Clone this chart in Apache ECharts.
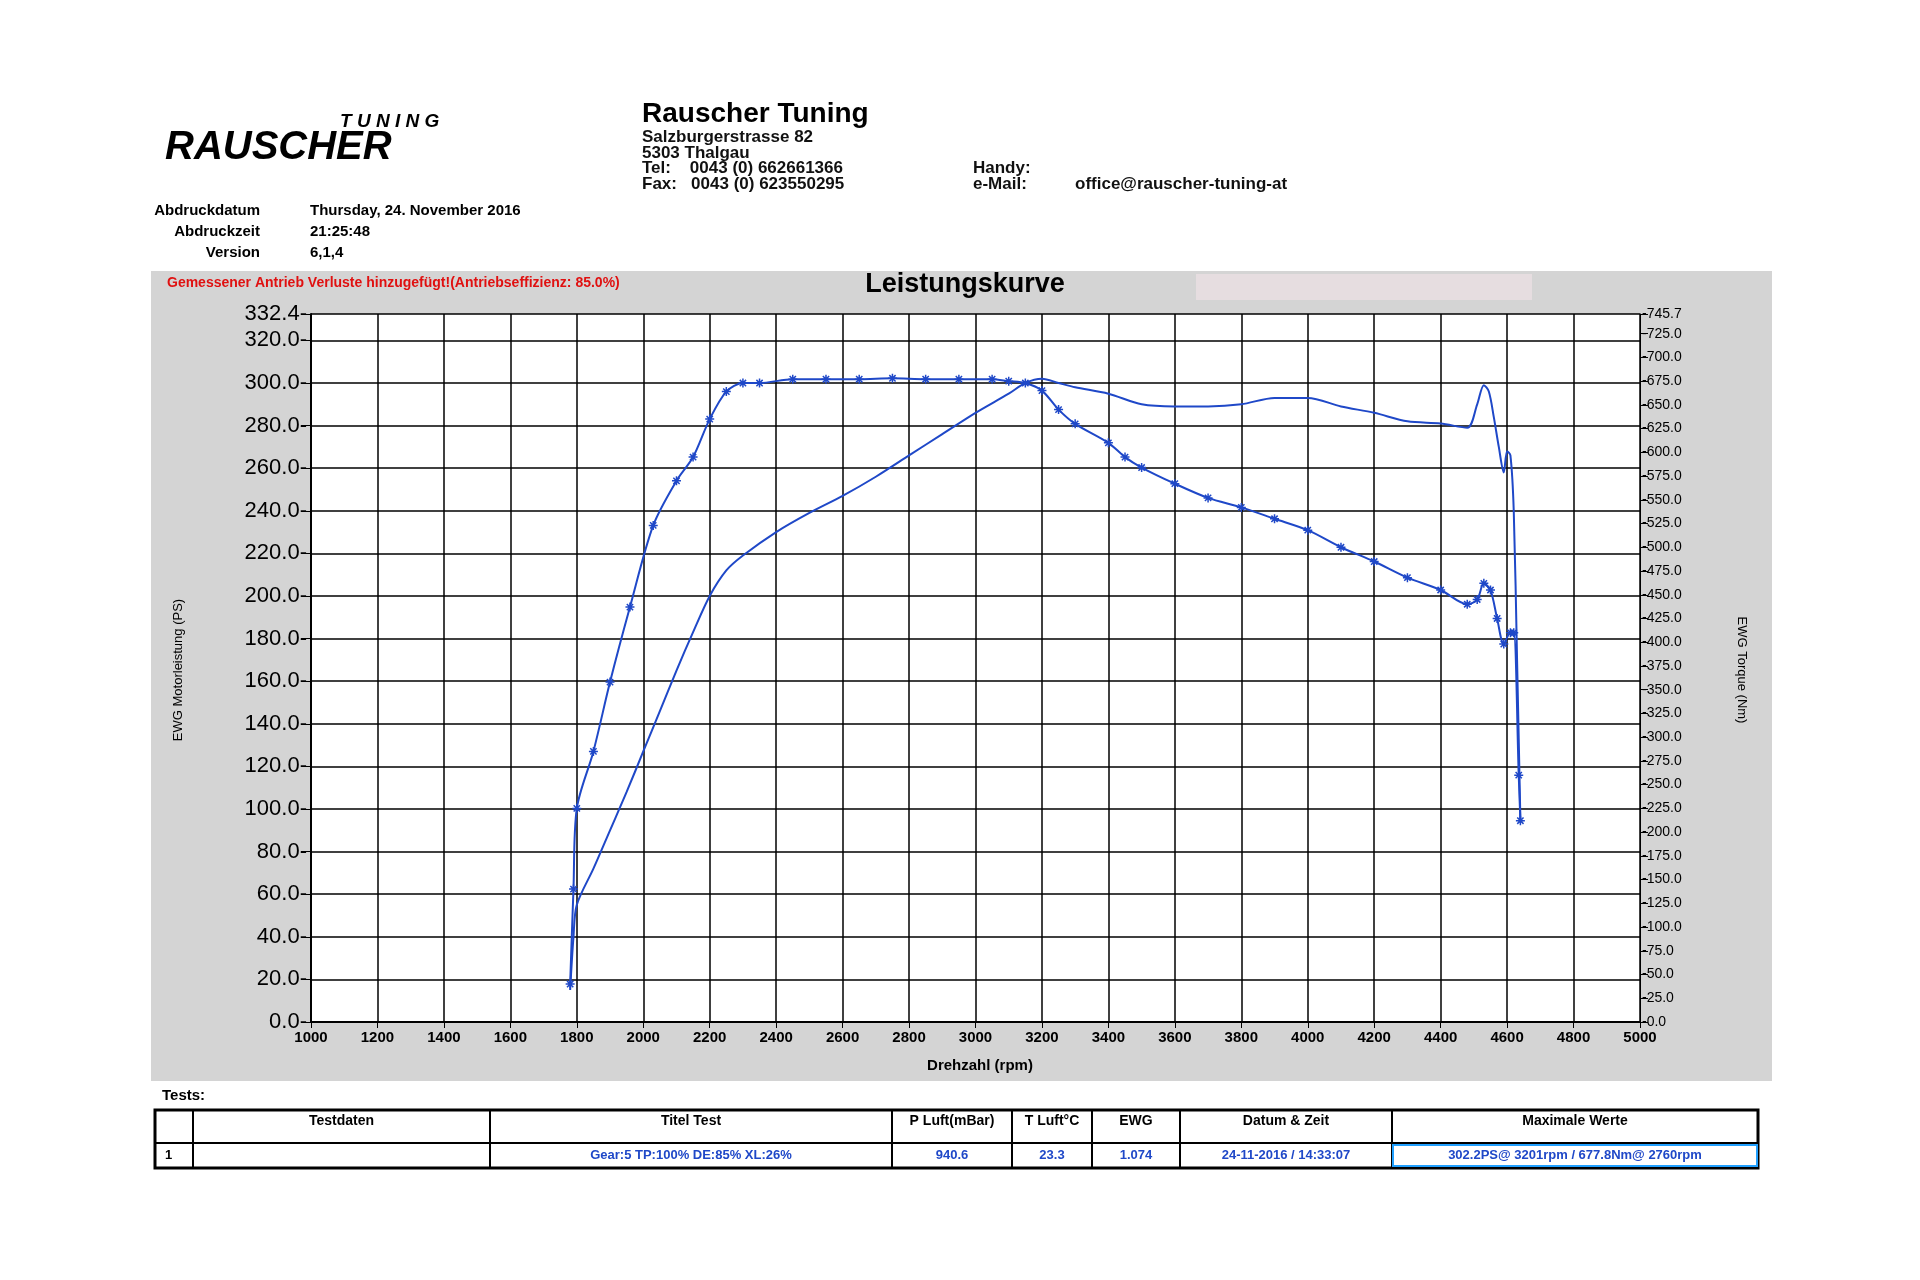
<!DOCTYPE html>
<html><head><meta charset="utf-8">
<script src="https://cdn.jsdelivr.net/npm/echarts@6/dist/echarts.min.js"></script>
<style>html,body{margin:0;background:#fff}#c{width:1920px;height:1280px}</style>
</head><body><div id="c"></div>
<script>
// rpm, PS (left axis)
const powerRpm = [1780,1790,1800,1850,1900,1950,2000,2050,2100,2150,2200,2250,2300,2400,2500,2600,2700,2800,2900,3000,3100,3150,3200,3250,3300,3400,3500,3600,3700,3800,3900,4000,4100,4200,4300,4400,4480,4510,4530,4545,4560,4575,4590,4600,4610,4620,4630,4640];
const powerPS  = [15,40,55,72,90,108,127,146,165,183,200,212,219,230,239,247,256,266,276,286,295,300,302,300,298,295,290,289,289,290,293,293,289,286,282,281,279,290,299,296,284,270,258,268,266,240,170,95];
// rpm, Nm (right axis)
const torqueRpm = [1780,1790,1800,1850,1900,1960,2030,2100,2150,2200,2250,2300,2350,2450,2550,2650,2750,2850,2950,3050,3100,3150,3200,3250,3300,3400,3450,3500,3600,3700,3800,3900,4000,4100,4200,4300,4400,4480,4510,4530,4550,4570,4590,4610,4620,4635,4640];
const torqueNm  = [40,140,225,285,358,437,523,570,595,635,664,673,673,677,677,677,678,677,677,677,675,673,665,645,630,610,595,584,567,552,542,530,518,500,485,468,455,440,445,462,455,425,398,410,410,260,212];
const leftTicks = {min:0,max:332.4,interval:20};
const rightTicks = {min:0,max:745.7,interval:25};
const xTicks = {min:1000,max:5000,interval:200};
const tableCols = ['','Testdaten','Titel Test','P Luft(mBar)','T Luft°C','EWG','Datum & Zeit','Maximale Werte'];
const tableRow = ['1','','Gear:5 TP:100% DE:85% XL:26%','940.6','23.3','1.074','24-11-2016 / 14:33:07','302.2PS@ 3201rpm / 677.8Nm@ 2760rpm'];
const colX = [155,193,490,892,1012,1092,1180,1392,1758];

const F = '"Liberation Sans", Arial, sans-serif';
const blue = '#1f48c8';
const g = [];
g.push({type:'rect',shape:{x:151,y:271,width:1621,height:810},style:{fill:'#d4d4d4'},z:-10});
g.push({type:'rect',shape:{x:1196,y:274,width:336,height:26},style:{fill:'#e6dde0'},z:-9});
g.push({type:'text',x:340,y:112,style:{text:'T U N I N G',font:'italic bold 19px '+F,fill:'#000'}});
g.push({type:'text',x:165,y:128,style:{text:'RAUSCHER',font:'italic 900 40px '+F,fill:'#000'}});
g.push({type:'text',x:642,y:100,style:{text:'Rauscher Tuning',font:'bold 28px '+F,fill:'#000'}});
const addr=['Salzburgerstrasse 82','5303 Thalgau','Tel:    0043 (0) 662661366','Fax:   0043 (0) 623550295'];
addr.forEach((t,i)=>g.push({type:'text',x:642,y:129+i*15.5,style:{text:t,font:'bold 17px '+F,fill:'#111'}}));
g.push({type:'text',x:973,y:160,style:{text:'Handy:',font:'bold 17px '+F,fill:'#111'}});
g.push({type:'text',x:973,y:176,style:{text:'e-Mail:',font:'bold 17px '+F,fill:'#111'}});
g.push({type:'text',x:1075,y:176,style:{text:'office@rauscher-tuning-at',font:'bold 17px '+F,fill:'#111'}});
[['Abdruckdatum','Thursday, 24. November 2016'],['Abdruckzeit','21:25:48'],['Version','6,1,4']].forEach((r,i)=>{
  g.push({type:'text',x:260,y:203+i*21,style:{text:r[0],font:'bold 15px '+F,fill:'#000',align:'right'}});
  g.push({type:'text',x:310,y:203+i*21,style:{text:r[1],font:'bold 15px '+F,fill:'#000'}});
});
g.push({type:'text',x:167,y:276,style:{text:'Gemessener Antrieb Verluste hinzugefügt!(Antriebseffizienz: 85.0%)',font:'bold 14px '+F,fill:'#e01010'}});
g.push({type:'text',x:965,y:271,style:{text:'Leistungskurve',font:'bold 27px '+F,fill:'#000',align:'center'}});
g.push({type:'text',x:162,y:1088,style:{text:'Tests:',font:'bold 15px '+F,fill:'#000'}});
// table
g.push({type:'rect',shape:{x:155,y:1110,width:1603,height:58},style:{fill:'#fff',stroke:'#000',lineWidth:3},z:1});
g.push({type:'line',shape:{x1:155,y1:1143,x2:1758,y2:1143},style:{stroke:'#000',lineWidth:2},z:2});
colX.slice(1,-1).forEach(x=>g.push({type:'line',shape:{x1:x,y1:1110,x2:x,y2:1168},style:{stroke:'#000',lineWidth:2},z:2}));
g.push({type:'rect',shape:{x:1393,y:1145,width:364,height:21},style:{fill:'none',stroke:'#20a0ff',lineWidth:2},z:3});
tableCols.forEach((t,i)=>g.push({type:'text',x:(colX[i]+colX[i+1])/2,y:1114,style:{text:t,font:'bold 14px '+F,fill:'#000',align:'center'},z:3}));
tableRow.forEach((t,i)=>{const w=colX[i+1]-colX[i]-4;g.push({type:'text',x:i==0?165:(colX[i]+colX[i+1])/2,y:1149,style:{text:t,font:'bold 13px '+F,fill:i==0?'#000':blue,align:i==0?'left':'center',width:w,overflow:'truncate'},z:3});});
g.push({type:'text',x:980,y:1058,style:{text:'Drehzahl (rpm)',font:'bold 15px '+F,fill:'#000',align:'center'}});
g.push({type:'text',x:178,y:670,rotation:Math.PI/2,style:{text:'EWG Motorleistung (PS)',font:'13px '+F,fill:'#000',align:'center',verticalAlign:'middle'}});
g.push({type:'text',x:1742,y:670,rotation:-Math.PI/2,style:{text:'EWG Torque (Nm)',font:'13px '+F,fill:'#000',align:'center',verticalAlign:'middle'}});

const star='path://M0,5 L10,5 M5,0 L5,10 M1.5,1.5 L8.5,8.5 M8.5,1.5 L1.5,8.5';
const chart = echarts.init(document.getElementById('c'));
chart.setOption({
  animation:false,
  backgroundColor:'#fff',
  graphic:g,
  grid:{left:311,right:280,top:314,bottom:258,show:true,backgroundColor:'#fff',borderWidth:0},
  xAxis:{type:'value',...xTicks,axisLine:{lineStyle:{color:'#000',width:2}},axisTick:{show:true,length:6,lineStyle:{color:'#000'}},
    axisLabel:{color:'#000',fontSize:15,fontWeight:'bold',fontFamily:F,formatter:v=>String(v)},splitLine:{lineStyle:{color:'#000',width:1.5}}},
  yAxis:[
    {type:'value',...leftTicks,position:'left',axisLine:{show:true,lineStyle:{color:'#000',width:2}},axisTick:{show:true,length:10,lineStyle:{color:'#000'}},
      axisLabel:{color:'#000',fontSize:22,fontFamily:F,formatter:v=>v.toFixed(1)+'-',margin:4},splitLine:{lineStyle:{color:'#000',width:1.5}}},
    {type:'value',...rightTicks,position:'right',axisLine:{show:true,lineStyle:{color:'#000',width:1}},axisTick:{show:true,length:8,lineStyle:{color:'#000'}},
      axisLabel:{color:'#000',fontSize:14,fontFamily:F,formatter:v=>'-'+v.toFixed(1),margin:2},splitLine:{show:false}}
  ],
  series:[
    {type:'line',yAxisIndex:0,data:powerRpm.map((x,i)=>[x,powerPS[i]]),smooth:0.3,showSymbol:false,lineStyle:{color:blue,width:2}},
    {type:'line',yAxisIndex:1,data:torqueRpm.map((x,i)=>[x,torqueNm[i]]),smooth:0.3,symbol:star,symbolSize:9,itemStyle:{color:'none',borderColor:blue,borderWidth:1.5},lineStyle:{color:blue,width:2}}
  ]
});
</script></body></html>
